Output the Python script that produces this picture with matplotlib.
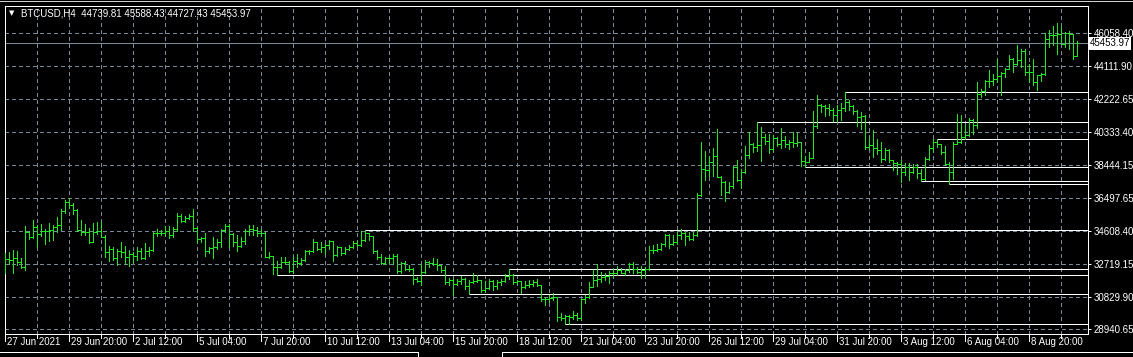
import matplotlib
matplotlib.use('Agg')
import matplotlib.pyplot as plt
import matplotlib.transforms as mtrans
from matplotlib.lines import Line2D
import numpy as np

# ---------------- data (BTCUSD, H4) ----------------
symbol = "BTCUSD,H4"
header_ohlc = ["44739.81", "45588.43", "44727.43", "45453.97"]
bid_price = 45453.97

open_ = [
    33063, 32987, 32967, 33063, 32815, 32528, 34532, 34246, 34818, 34437,
    34628, 34589, 34666, 34818, 34952, 35773, 36307, 36116, 35830, 34666,
    34532, 34532, 33998, 34532, 34628, 34284, 33425, 33578, 33063, 33444,
    33425, 33101, 33292, 33196, 33483, 33044, 33483, 33540, 34475, 34494,
    34494, 34628, 34380, 34723, 35486, 35162, 35353, 35486, 34761, 34150,
    34208, 33444, 33616, 33673, 33998, 34666, 34914, 34437, 33960, 33769,
    34055, 34628, 34723, 34666, 34494, 34494, 33139,
    33196, 32528, 32528, 32853, 32815, 32299, 32910, 32757, 32967, 33444,
    33444, 33960, 33578, 33673, 33826, 34055, 33254, 33673, 33330, 33578,
    33673, 33921, 33807, 34093, 34475, 34341, 33483, 33101, 32776, 33044,
    33044, 33196, 32280, 32776, 32395, 32433, 31861, 31708, 32242, 32815,
    32757, 32681, 32624, 32338, 31670, 31765, 31574, 31727, 31861, 31421,
    31670, 31708, 31765, 31231, 31326, 31727, 31441, 31670, 31708, 32013,
    32051, 31670, 31708, 31383, 31479, 31574, 31670,
    31479, 30666, 30685, 30723, 30781, 29630, 29573, 29707, 29630, 29765,
    29573, 30685, 30819, 31394, 31777, 31815, 31969, 32007, 32161, 32161,
    32391, 32199, 32352, 32735, 32448, 32256, 32352, 32448, 33540, 33502,
    33598, 33847, 34364, 33885, 33981, 34364, 34499, 34307, 34173, 34364,
    36664, 38197, 38140, 38581, 38964, 37757, 37431, 36856, 37182, 38332,
    37565, 38006, 39003, 39635, 39444, 39597, 40019, 39827, 39348, 39980,
    39635, 39865, 39635, 39731, 39673, 39769, 38677,
    38619, 38848, 40655, 41867, 41809, 41732, 41578, 41290, 41578, 41732,
    42059, 41809, 41540, 41194, 41232, 39463, 39559, 39425, 39271, 38790,
    39309, 38732, 38540, 38463, 38021, 38309, 38021, 38309, 37963, 37636,
    38790, 39425, 39752, 39617, 39175, 38463, 38021, 39655, 39752, 40040,
    40136, 41001, 40713, 42501, 42674, 43251, 43270, 43405, 43539, 43731,
    43981, 44558, 44270, 44462, 45001, 43789, 43789, 43213, 43597, 43693,
    45712, 45905, 45905, 45962, 45424, 46039, 45962, 44739.81,
]
high = [
    33330, 33425, 33521, 33483, 33063, 34914, 34628, 35238, 34952, 35009,
    34723, 35066, 34952, 35429, 35868, 36402, 36498, 36211, 35868, 35257,
    35009, 34761, 35047, 35143, 35143, 34380, 33769, 33712, 33578, 33960,
    33769, 33540, 33425, 33673, 33635, 33922, 33712, 34532, 34723, 34685,
    34914, 34914, 34818, 35639, 35582, 35486, 35582, 35868, 34818, 34284,
    34494, 33673, 34246, 34150, 34723, 35009, 35009, 34475, 34380, 34246,
    34723, 34952, 34952, 34818, 34723, 34532, 33425,
    33196, 32910, 33101, 33101, 32910, 33101, 33292, 33044, 33521, 33521,
    34150, 33998, 33960, 33864, 34093, 34055, 33731, 33712, 33712, 33807,
    34055, 34055, 34589, 34654, 34494, 34341, 33521, 33292, 33101, 33196,
    33292, 33292, 32853, 32910, 32624, 32490, 31956, 32719, 32967, 32910,
    33044, 33006, 32662, 32566, 31899, 31861, 31861, 31994, 31899, 31765,
    32204, 32051, 31803, 31708, 31861, 31765, 31765, 31861, 32147, 32403,
    32109, 31803, 31727, 31708, 31765, 31784, 31861,
    31490, 30819, 30915, 31011, 30800, 29860, 29765, 29765, 29995, 29860,
    30717, 30915, 31681, 32352, 32735, 32256, 32199, 32295, 32410, 32582,
    32486, 32448, 32774, 32831, 32544, 32582, 32544, 33732, 33790, 33885,
    33924, 34460, 34460, 34364, 34556, 34748, 34556, 34556, 34556, 36799,
    39731, 39252, 38964, 39386, 40498, 37814, 37527, 37431, 38389, 38715,
    38197, 39539, 40306, 39673, 40887, 40632, 40210, 40210, 40153, 40019,
    40536, 40114, 39865, 40306, 40249, 39769, 38964,
    39175, 41540, 42443, 41963, 41867, 41963, 41732, 41867, 42001, 42620,
    42193, 41867, 41578, 41482, 41290, 40040, 40425, 39944, 39752, 39425,
    39367, 38732, 38598, 38732, 38540, 38540, 38502, 38502, 38213, 38886,
    39559, 39944, 39906, 39655, 39502, 38598, 39752, 41347, 41290, 40713,
    41155, 41097, 43213, 42828, 43309, 43924, 43693, 44559, 43789, 44039,
    44751, 44616, 45328, 45135, 45097, 44270, 44558, 43597, 43731, 46039,
    46231, 46424, 46635, 46424, 46097, 46135, 46001, 45588.43,
]
low = [
    32185, 32719, 32185, 32624, 32490, 32338, 34150, 34208, 33673, 34341,
    33864, 34017, 34093, 34532, 34685, 35639, 35963, 35582, 34628, 34399,
    34380, 33922, 33960, 34437, 34246, 33101, 32910, 32967, 32662, 33101,
    32719, 32586, 32757, 32967, 33006, 33006, 33196, 33483, 34341, 34380,
    34341, 34208, 34284, 34589, 35105, 35124, 35295, 34628, 33902, 33960,
    33196, 33349, 33063, 33578, 33673, 34532, 33673, 33769, 33483, 33673,
    33864, 34399, 34380, 34341, 34341, 33101, 33063,
    32147, 32057, 32490, 32719, 32242, 32185, 32528, 32624, 32872, 33292,
    33387, 33521, 33425, 33292, 33578, 32910, 33196, 33254, 33292, 33521,
    33635, 33769, 33769, 34017, 34093, 33330, 33006, 32681, 32681, 32776,
    32719, 32204, 32204, 32338, 32299, 31536, 31670, 31479, 32204, 32528,
    32624, 32376, 32242, 31536, 31479, 30906, 31479, 31574, 31288, 30978,
    31632, 31690, 31097, 31097, 31288, 31193, 31288, 31479, 31670, 31861,
    31536, 31536, 31040, 31345, 31383, 31441, 31421,
    30589, 30340, 30532, 30627, 29439, 29477, 29229, 29247, 29515, 29477,
    29477, 30436, 30723, 31355, 31432, 31681, 31777, 31585, 31969, 32065,
    32161, 32065, 32256, 32199, 32199, 31873, 32007, 32391, 33349, 33464,
    33540, 33732, 33655, 33790, 33885, 34173, 33790, 34115, 34077, 34307,
    36626, 37584, 37814, 37814, 37719, 36664, 36339, 36818, 37105, 37527,
    37105, 37949, 38811, 39156, 39252, 38677, 39635, 39099, 39252, 39539,
    39405, 39482, 39348, 39444, 39539, 38389, 38290,
    38590, 38800, 40578, 41482, 41232, 41290, 40963, 40905, 41040, 41540,
    41617, 41347, 40674, 40520, 39367, 39367, 38886, 39040, 38598, 38732,
    38598, 38117, 37925, 37444, 37829, 37540, 37963, 37694, 37482, 37540,
    38694, 39175, 39463, 39079, 38406, 37309, 37636, 39617, 39713, 39944,
    40097, 40232, 40578, 42347, 42443, 42924, 43020, 43213, 42443, 43501,
    43943, 43789, 44212, 44078, 43597, 43213, 43020, 42770, 43270, 43597,
    45231, 45328, 44847, 45385, 45231, 45135, 44558, 44727.43,
]
close = [
    32987, 32967, 33063, 32815, 32528, 34532, 34246, 34818, 34437, 34628,
    34589, 34666, 34818, 34952, 35773, 36307, 36116, 35830, 34666, 34532,
    34532, 33998, 34532, 34628, 34284, 33425, 33578, 33063, 33444, 33425,
    33101, 33292, 33196, 33483, 33044, 33483, 33540, 34475, 34494, 34494,
    34628, 34380, 34723, 35486, 35162, 35353, 35486, 34761, 34150, 34208,
    33444, 33616, 33673, 33998, 34666, 34914, 34437, 33960, 33769, 34055,
    34628, 34723, 34666, 34494, 34494, 33139, 33196,
    32528, 32528, 32853, 32815, 32299, 32910, 32757, 32967, 33444, 33444,
    33960, 33578, 33673, 33826, 34055, 33254, 33673, 33330, 33578, 33673,
    33921, 33807, 34093, 34475, 34341, 33483, 33101, 32776, 33044, 33044,
    33196, 32280, 32776, 32395, 32433, 31861, 31708, 32242, 32815, 32757,
    32681, 32624, 32338, 31670, 31765, 31574, 31727, 31861, 31421, 31670,
    31708, 31765, 31231, 31326, 31727, 31441, 31670, 31708, 32013, 32051,
    31670, 31708, 31383, 31479, 31574, 31670, 31479,
    30666, 30685, 30723, 30781, 29630, 29573, 29707, 29630, 29765, 29573,
    30685, 30819, 31394, 31777, 31815, 31969, 32007, 32161, 32161, 32391,
    32199, 32352, 32735, 32448, 32256, 32352, 32448, 33540, 33502, 33598,
    33847, 34364, 33885, 33981, 34364, 34499, 34307, 34173, 34364, 36664,
    38197, 38140, 38581, 38964, 37757, 37431, 36856, 37182, 38332, 37565,
    38006, 39003, 39635, 39444, 39597, 40019, 39827, 39348, 39980, 39635,
    39865, 39635, 39731, 39673, 39769, 38677, 38619,
    38848, 40655, 41867, 41809, 41732, 41578, 41290, 41578, 41732, 42059,
    41809, 41540, 41194, 41232, 39463, 39559, 39425, 39271, 38790, 39309,
    38732, 38540, 38463, 38021, 38309, 38021, 38309, 37963, 37636, 38790,
    39425, 39752, 39617, 39175, 38463, 38021, 39655, 39752, 40040, 40136,
    41001, 40713, 42501, 42674, 43251, 43270, 43405, 43539, 43731, 43981,
    44558, 44270, 44462, 45001, 43789, 43789, 43213, 43597, 43693, 45712,
    45905, 45905, 45962, 45424, 46039, 45962, 44739.81, 45453.97,
]

# horizontal levels drawn on the chart: start bar index and price
level_start = [210, 188, 233, 200, 229, 236, 90, 126, 68, 116, 140]
level_price = [42620, 40887, 39906, 38290, 37482, 37309, 34654, 32403, 32057, 30978, 29229]

price_ticks = [46058.40, 44111.90, 42222.65, 40333.40, 38444.15, 36497.65,
               34608.40, 32719.15, 30829.90, 28940.65]
date_labels = ["27 Jun 2021", "29 Jun 20:00", "2 Jul 12:00", "5 Jul 04:00",
               "7 Jul 20:00", "10 Jul 12:00", "13 Jul 04:00", "15 Jul 20:00",
               "18 Jul 12:00", "21 Jul 04:00", "23 Jul 20:00", "26 Jul 12:00",
               "29 Jul 04:00", "31 Jul 20:00", "3 Aug 12:00", "6 Aug 04:00",
               "8 Aug 20:00"]
label_every = 16   # bars between date labels
grid_every = 8     # bars between vertical grid lines

# ---------------- styling ----------------
W, H = 1133, 357
BAR = '#22e622'
GRID = '#778899'
FONT = ['Liberation Sans', 'DejaVu Sans']
plt.rcParams['font.family'] = FONT
PX = 0.72  # one pixel in points

fig = plt.figure(figsize=(W / 100, H / 100), dpi=100, facecolor='black')
L_, R_, T_, B_ = 5.0, 1088.0, 5.5, 333.5
ax = fig.add_axes([L_ / W, (H - B_) / H, (R_ - L_) / W, (B_ - T_) / H])
ax.set_facecolor('black')

n = len(close)
x = np.arange(n)
ax.set_xlim(-0.075, 270.675)
ax.set_ylim(28698, 47628)

# grid
for gx in range(grid_every, 270, grid_every):
    ax.axvline(gx, color=GRID, lw=PX, ls=(0, (3, 3)), zorder=1, antialiased=False)
for p in price_ticks:
    ax.axhline(p, color=GRID, lw=PX, ls=(0, (3, 3)), zorder=1, antialiased=False)
ax.axhline(bid_price, color=GRID, lw=PX, zorder=1, antialiased=False)

# horizontal levels
ax.hlines(level_price, level_start, 271, colors='white', lw=PX, zorder=2,
          antialiased=False)

# OHLC bars
o = np.array(open_, float); h = np.array(high, float)
l = np.array(low, float); c = np.array(close, float)
ax.vlines(x, l, h, colors=BAR, lw=PX, zorder=3, antialiased=False)
ax.hlines(o, x - 0.3, x, colors=BAR, lw=PX, zorder=3, antialiased=False)
ax.hlines(c, x, x + 0.3, colors=BAR, lw=PX, zorder=3, antialiased=False)

# frame
for s in ax.spines.values():
    s.set_color('white'); s.set_linewidth(PX)

# right price axis
ax.yaxis.tick_right()
ax.set_yticks(price_ticks)
ax.set_yticklabels([f"{p:.2f}" for p in price_ticks])
ax.tick_params(axis='y', colors='white', length=3 * PX, width=PX, pad=2,
               labelsize=7)
ax.set_xticks([])
ax.text(1.0015, bid_price, f"{bid_price:.2f}",
        transform=mtrans.blended_transform_factory(ax.transAxes, ax.transData),
        ha='left', va='center', fontsize=7, color='black',
        bbox=dict(boxstyle='square,pad=0.15', fc='white', ec='none'), clip_on=False)

# date axis
bt = mtrans.blended_transform_factory(ax.transData, ax.transAxes)
for gx in range(0, 270, grid_every):
    major = (gx % label_every == 0)
    ln = 7 if major else 4
    ax.plot([gx, gx], [0, -ln / (B_ - T_)], color='white', lw=PX, transform=bt,
            clip_on=False, antialiased=False)
for k, lab in enumerate(date_labels):
    ax.text(k * label_every + 0.5, -8.5 / (B_ - T_), lab, transform=bt, ha='left',
            va='center', color='white', fontsize=7)

# window edges (top border and bottom tab strip)
def fline(xs, ys, color='white'):
    fig.add_artist(Line2D([v / W for v in xs], [1 - v / H for v in ys],
                          color=color, lw=PX, antialiased=False))
fline([0, W], [0.5, 0.5], '#d0d0d0')
fline([0, 418], [351.5, 351.5])
fline([418, 418], [351.5, 357])
fline([502, 502], [351.5, 357])
fline([502, W], [351.5, 351.5])

# header
fig.text(9 / W, 1 - 13 / H, '\u25BC', color='white', fontsize=5, va='center',
         family=['DejaVu Sans'])
fig.text(21 / W, 1 - 13 / H, symbol + "  " + " ".join(header_ohlc), color='white',
         fontsize=7, va='center')

fig.savefig('out.png', dpi=100, facecolor='black')
